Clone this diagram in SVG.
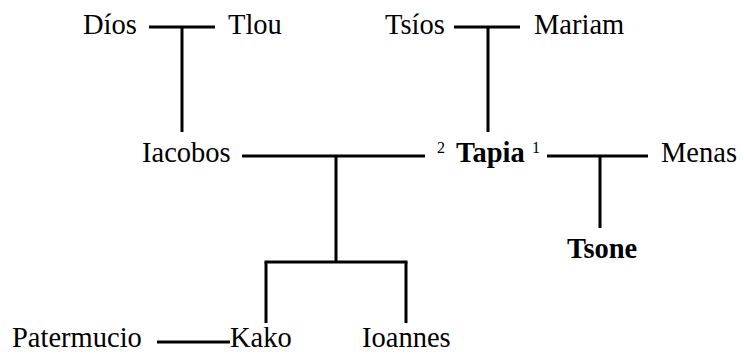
<svg xmlns="http://www.w3.org/2000/svg" width="744" height="354" viewBox="0 0 744 354">
<style>
text{font-family:'Liberation Serif','DejaVu Serif',serif;font-size:28.5px;fill:#000}
.b{font-weight:bold}
.sup{font-size:16px}
.c line{stroke:#000;stroke-width:3;fill:none}
</style>
<rect width="744" height="354" fill="#fff"/>
<g class="c" id="connectors">
<line x1="149" y1="27" x2="215" y2="27"/>
<line x1="182" y1="27" x2="182" y2="132"/>
<line x1="454" y1="27" x2="520" y2="27"/>
<line x1="488" y1="27" x2="488" y2="132"/>
<line x1="242" y1="156" x2="425" y2="156"/>
<line x1="336" y1="156" x2="336" y2="262"/>
<line x1="264.5" y1="262" x2="407.5" y2="262"/>
<line x1="266" y1="262" x2="266" y2="323"/>
<line x1="406" y1="262" x2="406" y2="323"/>
<line x1="547" y1="156" x2="648" y2="156"/>
<line x1="600" y1="156" x2="600" y2="228"/>
<line x1="157" y1="342" x2="230" y2="342"/>
</g>
<g id="dios"><text x="83" y="34">Díos</text></g>
<g id="tlou"><text x="228" y="34">Tlou</text></g>
<g id="tsios"><text x="385" y="34">Tsíos</text></g>
<g id="mariam"><text x="534" y="34">Mariam</text></g>
<g id="iacobos"><text x="142" y="162">Iacobos</text></g>
<g id="tapia"><text x="437" y="153" class="sup">2</text><text x="456" y="162" class="b">Tapia</text><text x="532" y="153" class="sup">1</text></g>
<g id="menas"><text x="661" y="162">Menas</text></g>
<g id="tsone"><text x="567" y="258" class="b">Tsone</text></g>
<g id="patermucio"><text x="12" y="347">Patermucio</text></g>
<g id="kako"><text x="230" y="347">Kako</text></g>
<g id="ioannes"><text x="362" y="347">Ioannes</text></g>
</svg>
